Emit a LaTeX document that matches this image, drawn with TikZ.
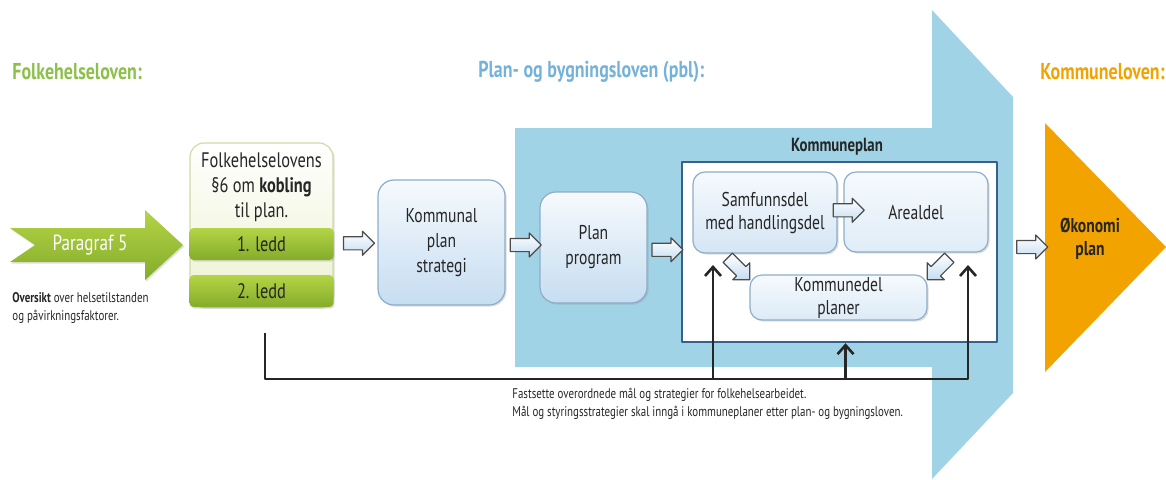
\documentclass[tikz,border=0pt]{standalone}
\usepackage{fontspec}
\setmainfont{PT Sans}[FakeStretch=0.78]
\usetikzlibrary{shapes.arrows,shadows,calc,arrows.meta}
\definecolor{fhgreen}{HTML}{8DC04A}
\definecolor{pbltitle}{HTML}{74B2DA}
\definecolor{klorange}{HTML}{F2A300}
\definecolor{bandblue}{HTML}{A0D3E6}
\definecolor{kpframe}{HTML}{35628C}
\definecolor{boxline}{HTML}{8EADC8}
\definecolor{boxtop}{HTML}{F6FAFD}
\definecolor{boxbot}{HTML}{C6DDF1}
\definecolor{barlight}{HTML}{B4D446}
\definecolor{bardark}{HTML}{84AC2A}
\definecolor{fhlfill}{HTML}{F3F7DC}
\definecolor{fhlline}{HTML}{D0DCA3}
\definecolor{txtdark}{HTML}{262626}
\newcommand\fsz[2]{\fontsize{#1}{#2}\selectfont}
\tikzset{
  title/.style={inner sep=0pt, anchor=west, font=\fsz{11.5}{13}\bfseries},
  box/.style={rounded corners=8pt, draw=boxline, line width=0.6pt, top color=boxtop, bottom color=boxbot,
    align=center, text=txtdark, font=\fsz{10}{12.5}\selectfont,
    drop shadow={opacity=0.25,shadow xshift=0.8pt,shadow yshift=-0.8pt}},
  ibox/.style={box, rounded corners=6pt, bottom color=boxbot!75, font=\fsz{10}{11.5}\selectfont},
  leddbar/.style={rounded corners=2pt, top color=barlight, bottom color=bardark, minimum width=72pt,
    minimum height=16pt, text=txtdark, font=\fsz{10.5}{12}\selectfont,
    drop shadow={opacity=0.25,shadow xshift=0.6pt,shadow yshift=-0.8pt}},
  blockarr/.style={single arrow, draw=black!70, line width=0.6pt, top color=white, bottom color=boxbot,
    minimum height=15.5pt, inner sep=3pt, single arrow head extend=2.7pt},
  smalltxt/.style={align=left, inner sep=0pt, text=txtdark, font=\fsz{7}{9}\selectfont},
  fbline/.style={line width=1.3pt, black!85, -{Straight Barb[length=4.5pt,width=8pt]}}
}
\begin{document}
\begin{tikzpicture}[x=0.5pt, y=-0.5pt, line join=round]
\useasboundingbox (0,0) rectangle (1166,479);
% bakgrunn: pbl-pil og kommuneloven
\fill[bandblue] (515,128) -- (932,128) -- (932,10) -- (1013,97) -- (1013,393) -- (932,479) -- (932,367) -- (515,367) -- cycle;
\fill[klorange] (1045,123) -- (1166,247) -- (1045,372) -- cycle;
\coordinate (bandtip) at (1013,247);
\coordinate (okwest) at (1045,247);
% overskrifter
\node[title, text=fhgreen] (tfhl) at (12,72) {Folkehelseloven:};
\node[title, text=pbltitle] (tpbl) at (478,72) {Plan- og bygningsloven (pbl):};
\node[title, text=klorange] (tkl) at (1040,72) {Kommuneloven:};
% paragraf 5
\shade[top color=barlight, bottom color=bardark, drop shadow={opacity=0.25,shadow xshift=0.6pt,shadow yshift=-0.8pt}]
  (10,228) -- (145,228) -- (145,210) -- (183,245) -- (145,280) -- (145,262) -- (10,262) -- (35,245) -- cycle;
\node[white, font=\fsz{11}{12}\selectfont] (par5) at (90,245) {Paragraf 5};
\node[smalltxt, anchor=north west] (overs) at (12,292) {\textbf{Oversikt} over helsetilstanden\\og påvirkningsfaktorer.};
% folkehelseloven par. 6
\node[rounded corners=7pt, draw=fhlline, line width=0.6pt, top color=white, bottom color=fhlfill!80!fhlline,
  minimum width=71.5pt, minimum height=82pt,
  drop shadow={opacity=0.25,shadow xshift=0.8pt,shadow yshift=-0.8pt}] (fhl) at (261.5,225) {};
\node[align=center, text=txtdark, font=\fsz{10.5}{12.5}\selectfont, anchor=north, inner sep=0pt] (fhltxt)
  at ($(fhl.north)+(0,10)$) {Folkehelselovens\\§6 om \textbf{kobling}\\til plan.};
\node[leddbar] (ledd1) at (261.5,244) {1. ledd};
\node[leddbar] (ledd2) at (261.5,291) {2. ledd};
% planprosessen
\node[box, minimum width=63.5pt, minimum height=62.5pt] (kps) at (441.5,242.5) {Kommunal\\plan\\strategi};
\node[box, minimum width=53.5pt, minimum height=55.5pt] (pp) at (593.5,247.5) {Plan\\program};
\node[draw=kpframe, line width=1.2pt, fill=white, minimum width=157.5pt, minimum height=90pt] (kp) at (839.5,252) {};
\node[text=txtdark, font=\fsz{9.5}{11}\bfseries] (kptitle) at (837,147) {Kommuneplan};
\node[ibox, minimum width=72pt, minimum height=40.5pt] (sd) at (765,212.5) {Samfunnsdel\\med handlingsdel};
\node[ibox, bottom color=boxbot!55, minimum width=72pt, minimum height=40pt] (ad) at (916,212) {Arealdel};
\node[ibox, bottom color=boxbot!60, inner sep=0pt, minimum width=88.5pt, minimum height=22.5pt] (kdp) at (838.5,297.5) {Kommunedel\\planer};
\node[align=center, text=txtdark, font=\fsz{10}{11.5}\bfseries] (okp) at (1090,239) {Økonomi\\plan};
% blokkpiler
\node[blockarr] (a1) at ($(ledd1.east)!0.5!(kps.west)$) {};
\node[blockarr] (a2) at ($(kps.east)!0.5!(pp.west)$) {};
\node[blockarr] (a3) at ($(pp.east)!0.5!(kp.west)$) {};
\node[blockarr] (a4) at ($(bandtip)!0.5!(okwest)$) {};
\node[blockarr] (a5) at ($(sd.east)!0.5!(ad.west)+(5,-2)$) {};
\node[blockarr, rotate=-45] (a6) at ($(kdp.north west)+(-13,-8)$) {};
\node[blockarr, rotate=-135] (a7) at ($(kdp.north east)+(13,-8)$) {};
% tilbakekobling
\coordinate (fbstart) at (265,333);
\coordinate (fbbase) at (0,379);
\coordinate (fbleft) at (713,265);
\coordinate (fbright) at (968,265);
\coordinate (fbmid) at ($(kp.south)+(6,0)$);
\draw[fbline] (fbstart) |- (fbbase -| fbright) -- (fbright);
\draw[fbline] (fbbase -| fbleft) -- (fbleft);
\draw[fbline] (fbbase -| fbmid) -- (fbmid);
\node[smalltxt, anchor=north west] (fbtxt) at (512,388) {Fastsette overordnede mål og strategier for folkehelsearbeidet.\\Mål og styringsstrategier skal inngå i kommuneplaner etter plan- og bygningsloven.};
\end{tikzpicture}
\end{document}
